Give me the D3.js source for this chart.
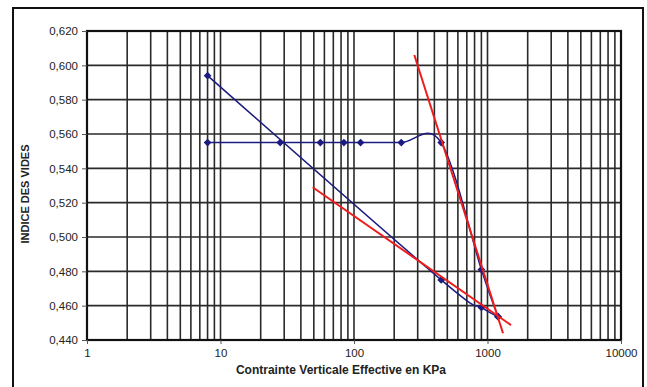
<!DOCTYPE html>
<html><head><meta charset="utf-8">
<script src="https://cdn.jsdelivr.net/npm/d3@7"></script>
<style>body{margin:0;background:#fff}svg{display:block}text{font-family:"Liberation Sans",Arial,sans-serif;fill:#222}</style>
</head><body><svg id="c" width="647" height="387"></svg>
<script>
// Data
const yTicks = [0.44,0.46,0.48,0.50,0.52,0.54,0.56,0.58,0.60,0.62];
const xTickLabels = [1,10,100,1000,10000];
const loadX = [8, 28, 56, 84, 112, 226, 450, 900, 1200];
const loadY = [0.555,0.555,0.555,0.555,0.555,0.555,0.555,0.481,0.4536];
const unloadX = [8, 450, 900, 1200];
const unloadY = [0.594, 0.475, 0.459, 0.4536];
const redSteepX = [283, 1307];
const redSteepY = [0.606, 0.4439];
const redFlatX = [49, 1500];
const redFlatY = [0.529, 0.4487];

const svg = d3.select('#c');
const L=87, R=621, T=31, B=340;
const x = d3.scaleLog().domain([1,10000]).range([L,R]);
const y = d3.scaleLinear().domain([0.44,0.62]).range([B,T]);

// outer frame
svg.append('path').attr('d',`M13,390V8H643V390`).attr('fill','none').attr('stroke','#111').attr('stroke-width',2);

// grid
const g = svg.append('g');
const vlines=[];
for(let d=1; d<10000; d*=10) for(let k=1;k<=9;k++) vlines.push(d*k);
vlines.push(10000);
g.selectAll('.v').data(vlines).enter().append('line')
 .attr('x1',d=>x(d)).attr('x2',d=>x(d)).attr('y1',T).attr('y2',B)
 .attr('stroke','#2a2a2a').attr('stroke-width',1.6);
g.selectAll('.h').data(yTicks).enter().append('line')
 .attr('x1',L).attr('x2',R).attr('y1',d=>y(d)).attr('y2',d=>y(d))
 .attr('stroke','#2a2a2a').attr('stroke-width',1.6);
svg.append('rect').attr('x',L).attr('y',T).attr('width',R-L).attr('height',B-T)
 .attr('fill','none').attr('stroke','#111').attr('stroke-width',2.2);

// axes
const ya = svg.append('g').attr('transform',`translate(${L},0)`)
 .call(d3.axisLeft(y).tickValues(yTicks).tickSize(5).tickPadding(4).tickFormat(d=>d3.format('.3f')(d).replace('.',',')));
ya.select('.domain').remove();
ya.selectAll('text').style('font-size','11.5px').attr('fill','#222');
ya.selectAll('line').attr('stroke','#555');
const xa = svg.append('g').attr('transform',`translate(0,${B})`)
 .call(d3.axisBottom(x).tickValues(xTickLabels).tickSize(4).tickPadding(5).tickFormat(d3.format('d')));
xa.select('.domain').remove();
xa.selectAll('text').style('font-size','11.5px').attr('fill','#222');
xa.selectAll('line').attr('stroke','#555');

// titles
svg.append('text').attr('x',341).attr('y',374).attr('text-anchor','middle')
 .style('font-size','12px').style('font-weight','bold').text('Contrainte Verticale Effective en KPa');
svg.append('text').attr('transform','translate(29,194) rotate(-90)').attr('text-anchor','middle')
 .style('font-size','11px').style('font-weight','bold').text('INDICE DES VIDES');

// series
const navy='#1c1c80';
const line = d3.line().x(d=>x(d[0])).y(d=>y(d[1])).curve(d3.curveCardinal.tension(0));
const load = loadX.map((v,i)=>[v,loadY[i]]);
const unload = unloadX.map((v,i)=>[v,unloadY[i]]);
[unload, load].forEach(s=>{
  svg.append('path').datum(s).attr('d',line).attr('fill','none').attr('stroke',navy).attr('stroke-width',1.5);
});
const dia = d3.symbol().type(d3.symbolSquare).size(30);
[unload, load].forEach(s=>{
  svg.selectAll(null).data(s).enter().append('path').attr('d',dia)
   .attr('transform',d=>`translate(${x(d[0])},${y(d[1])}) rotate(45)`).attr('fill',navy);
});

// red lines
[[redSteepX,redSteepY],[redFlatX,redFlatY]].forEach(([xs,ys])=>{
  svg.append('line').attr('x1',x(xs[0])).attr('y1',y(ys[0])).attr('x2',x(xs[1])).attr('y2',y(ys[1]))
   .attr('stroke','#ee1c1c').attr('stroke-width',2);
});
</script></body></html>
